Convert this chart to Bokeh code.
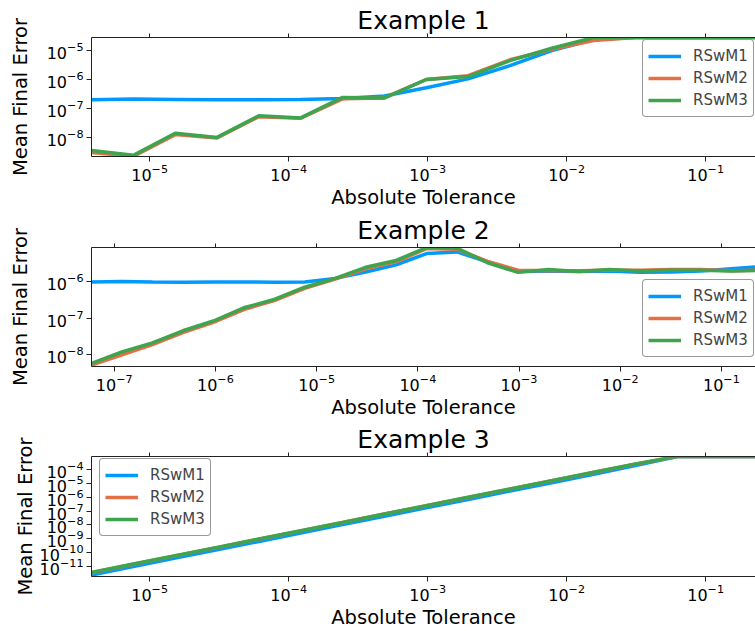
import numpy as np
from bokeh.plotting import figure
from bokeh.models import (LogAxis, FixedTicker, LogTickFormatter, CustomJSTickFormatter,
                          Legend, LegendItem, Range1d)
from bokeh.layouts import column
from bokeh.embed import file_html
from bokeh.resources import INLINE

# ---------------- data ----------------
series_names = ["RSwM1", "RSwM2", "RSwM3"]
colors = ["#009AFA", "#E36F47", "#3EA44E"]

tol_1 = [3.814697e-06, 7.629395e-06, 1.525879e-05, 3.051758e-05, 6.103516e-05,
         1.220703e-04, 2.441406e-04, 4.882813e-04, 9.765625e-04, 1.953125e-03,
         3.906250e-03, 7.812500e-03, 1.562500e-02, 3.125000e-02, 6.250000e-02,
         1.250000e-01, 2.500000e-01]
ex1_rswm1 = [2.0e-7, 2.1e-7, 2.05e-7, 2.0e-7, 2.0e-7, 2.05e-7, 2.2e-7, 2.7e-7, 5.2e-7,
             1.05e-6, 3.0e-6, 1.0e-5, 2.4e-5, 2.82e-5, 2.82e-5, 2.82e-5, 2.82e-5]
ex1_rswm2 = [3.0e-9, 2.2e-9, 1.25e-8, 9.5e-9, 5.2e-8, 4.6e-8, 2.15e-7, 2.3e-7, 1.0e-6,
             1.35e-6, 4.8e-6, 1.1e-5, 2.2e-5, 2.8e-5, 2.82e-5, 2.82e-5, 2.82e-5]
ex1_rswm3 = [3.5e-9, 2.4e-9, 1.4e-8, 1.0e-8, 5.6e-8, 4.7e-8, 2.4e-7, 2.3e-7, 1.0e-6,
             1.26e-6, 4.5e-6, 1.2e-5, 2.8e-5, 2.82e-5, 2.82e-5, 2.82e-5, 2.82e-5]

tol_2 = [5.960464e-08, 1.192093e-07, 2.384186e-07, 4.768372e-07, 9.536743e-07,
         1.907349e-06, 3.814697e-06, 7.629395e-06, 1.525879e-05, 3.051758e-05,
         6.103516e-05, 1.220703e-04, 2.441406e-04, 4.882813e-04, 9.765625e-04,
         1.953125e-03, 3.906250e-03, 7.812500e-03, 1.562500e-02, 3.125000e-02,
         6.250000e-02, 1.250000e-01, 2.500000e-01]
ex2_rswm1 = [9.5e-7, 9.8e-7, 9.5e-7, 9.4e-7, 9.6e-7, 9.6e-7, 9.4e-7, 9.6e-7, 1.2e-6,
             1.8e-6, 2.8e-6, 5.7e-6, 6.3e-6, 3.4e-6, 1.85e-6, 1.9e-6, 1.85e-6, 1.9e-6,
             1.75e-6, 1.8e-6, 1.9e-6, 2.2e-6, 2.5e-6]
ex2_rswm2 = [5.2e-9, 1.0e-8, 1.9e-8, 4.0e-8, 7.6e-8, 1.7e-7, 3.0e-7, 6.4e-7, 1.15e-6,
             2.2e-6, 3.4e-6, 7.8e-6, 7.4e-6, 3.5e-6, 2.0e-6, 1.95e-6, 1.95e-6, 2.0e-6,
             2.0e-6, 2.1e-6, 2.1e-6, 1.95e-6, 2.0e-6]
ex2_rswm3 = [5.8e-9, 1.2e-8, 2.1e-8, 4.5e-8, 8.3e-8, 1.9e-7, 3.2e-7, 6.9e-7, 1.2e-6,
             2.4e-6, 3.7e-6, 8.3e-6, 8.0e-6, 3.2e-6, 1.75e-6, 2.1e-6, 1.85e-6, 2.1e-6,
             1.9e-6, 2.0e-6, 2.0e-6, 1.9e-6, 2.0e-6]

tol_3 = list(tol_1)
ex3_rswm1 = [2.4e-12, 1.0e-11, 4.0e-11, 1.6e-10, 6.4e-10, 2.6e-9, 1.05e-8, 4.2e-8, 1.7e-7,
             6.8e-7, 2.8e-6, 1.1e-5, 4.5e-5, 1.9e-4, 8.5e-4, 8.5e-4, 8.5e-4]
ex3_rswm2 = [3.5e-12, 1.45e-11, 5.8e-11, 2.3e-10, 9.3e-10, 3.7e-9, 1.5e-8, 6.0e-8, 2.4e-7,
             9.5e-7, 3.8e-6, 1.5e-5, 6.0e-5, 2.4e-4, 8.5e-4, 8.5e-4, 8.5e-4]
ex3_rswm3 = [3.7e-12, 1.5e-11, 5.9e-11, 2.4e-10, 9.5e-10, 3.8e-9, 1.5e-8, 6.1e-8, 2.4e-7,
             9.8e-7, 3.9e-6, 1.55e-5, 6.2e-5, 2.5e-4, 8.5e-4, 8.5e-4, 8.5e-4]

xticks_1 = [1e-5, 1e-4, 1e-3, 1e-2, 1e-1]
yticks_1 = [1e-8, 1e-7, 1e-6, 1e-5]
xticks_2 = [1e-7, 1e-6, 1e-5, 1e-4, 1e-3, 1e-2, 1e-1]
yticks_2 = [1e-8, 1e-7, 1e-6]
xticks_3 = [1e-5, 1e-4, 1e-3, 1e-2, 1e-1]
yticks_3 = [1e-11, 1e-10, 1e-9, 1e-8, 1e-7, 1e-6, 1e-5, 1e-4]

titles = ["Example 1", "Example 2", "Example 3"]
x_title = "Absolute Tolerance"
y_title = "Mean Final Error"

# ---------------- styling ----------------
FONT = "DejaVu Sans"
AX = "#222222"
W = 755
LEFT = 91


def style_axis(ax, ticks):
    ax.ticker = FixedTicker(ticks=ticks)
    ax.minor_tick_line_color = None
    ax.major_tick_out = 5
    ax.major_tick_in = 0
    ax.axis_line_color = AX
    ax.major_tick_line_color = AX
    ax.major_label_text_font = FONT
    ax.major_label_text_font_size = "16px"
    ax.major_label_text_color = "black"
    ax.major_label_standoff = 3
    ax.axis_label_text_font = FONT
    ax.axis_label_text_font_size = "19.5px"
    ax.axis_label_text_font_style = "normal"
    ax.axis_label_text_color = "black"


def panel(idx, tol, ys, xr, yr, xticks, yticks, height, top, bottom,
          legend_loc, ylab_standoff):
    p = figure(width=W, height=height, x_axis_type="log", y_axis_type="log",
               x_range=Range1d(*xr), y_range=Range1d(*yr),
               output_backend="svg", toolbar_location=None,
               min_border_left=LEFT, min_border_right=0,
               min_border_top=top, min_border_bottom=bottom)
    p.outline_line_color = None
    p.grid.visible = False
    p.background_fill_color = "white"

    xa = p.xaxis[0]
    ya = p.yaxis[0]
    style_axis(xa, xticks)
    style_axis(ya, yticks)
    xa.formatter = LogTickFormatter()
    ya.formatter = LogTickFormatter()
    xa.major_label_standoff = 2
    xa.axis_label = x_title
    xa.axis_label_standoff = 2
    ya.axis_label = y_title
    ya.axis_label_standoff = ylab_standoff

    top_axis = LogAxis(formatter=CustomJSTickFormatter(code="return ''"))
    style_axis(top_axis, xticks)
    top_axis.major_tick_out = 4
    top_axis.major_label_standoff = 0
    top_axis.major_label_text_font_size = "0px"
    p.add_layout(top_axis, "above")

    p.title.text = titles[idx]
    p.title.text_font = FONT
    p.title.text_font_size = "25px"
    p.title.text_font_style = "normal"
    p.title.text_color = "black"
    p.title.align = "center"
    p.title.standoff = -3

    rends = []
    for yv, c in zip(ys, colors):
        rends.append(p.line(tol, yv, line_color=c, line_width=3.5))

    legend = Legend(items=[LegendItem(label=n, renderers=[r]) for n, r in zip(series_names, rends)],
                    location=legend_loc, orientation="vertical",
                    label_text_font=FONT, label_text_font_size="15px",
                    glyph_width=33, glyph_height=22, label_height=22,
                    label_standoff=12, padding=5, spacing=0, margin=0,
                    border_line_color="#333333", border_line_width=1,
                    background_fill_color="white", background_fill_alpha=1.0)
    if "border_radius" in Legend.properties():
        legend.border_radius = 4
    p.add_layout(legend)
    return p


p1 = panel(0, tol_1, [ex1_rswm1, ex1_rswm2, ex1_rswm3],
           (3.8147e-6, 0.2283), (2.19e-9, 2.82e-5), xticks_1, yticks_1,
           height=212, top=37, bottom=56, legend_loc=(551, 39), ylab_standoff=12)
p2 = panel(1, tol_2, [ex2_rswm1, ex2_rswm2, ex2_rswm3],
           (5.9605e-8, 0.2171), (4.79e-9, 8.32e-6), xticks_2, yticks_2,
           height=209, top=35, bottom=54, legend_loc=(551, 9), ylab_standoff=12)
p3 = panel(2, tol_3, [ex3_rswm1, ex3_rswm2, ex3_rswm3],
           (3.8147e-6, 0.2283), (1.9e-12, 8.5e-4), xticks_3, yticks_3,
           height=210, top=35, bottom=55, legend_loc=(8, 40), ylab_standoff=0)

layout = column(p1, p2, p3, spacing=0)
open("out.html", "w").write(file_html(layout, INLINE))
